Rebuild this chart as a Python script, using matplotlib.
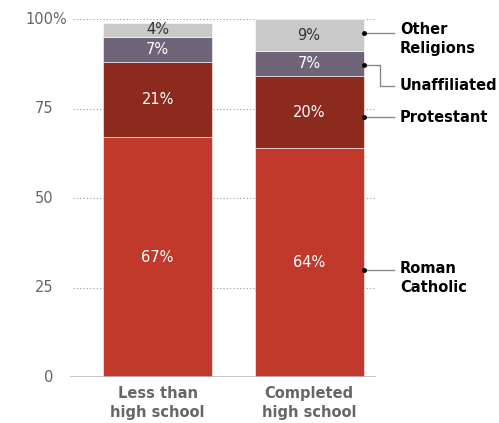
import matplotlib.pyplot as plt
import numpy as np

groups = ['Less than\nhigh school', 'Completed\nhigh school']
religions = ['Roman\nCatholic', 'Protestant', 'Unaffiliated', 'Other\nReligions']
catholic = [67, 64]
protestant = [21, 20]
unaffiliated = [7, 7]
other = [4, 9]
yticks = [0, 25, 50, 75, 100]

colors = ['#C0392B', '#8C2A1E', '#6F6478', '#C9C9CA']
text_colors = ['white', 'white', 'white', '#333333']

fig = plt.figure(figsize=(4.99, 4.23), dpi=100)
ax = fig.add_axes([0.1403, 0.1087, 0.6132, 0.8463])

x = np.arange(len(groups))
bottom = np.zeros(len(groups))
series = [catholic, protestant, unaffiliated, other]
for vals, c, tc in zip(series, colors, text_colors):
    vals = np.array(vals)
    ax.bar(x, vals, bottom=bottom, width=0.72, color=c, edgecolor='white', linewidth=0.4, zorder=2)
    for xi, b, v in zip(x, bottom, vals):
        ax.text(xi, b + v / 2, f'{v}%', ha='center', va='center', color=tc, fontsize=10.5, zorder=3)
    bottom = bottom + vals

ax.set_xlim(-0.578, 1.442)
ax.set_ylim(0, 100)

for s in ax.spines.values():
    s.set_visible(False)
ax.axhline(0, color='#BBBBBB', lw=1.2, zorder=3)
for t in yticks[1:]:
    ax.axhline(t, xmin=0.01, color='#999999', lw=0.8, ls=(0, (1, 2)), zorder=1)

ax.set_xticks([])
ax.set_yticks([])
for t in yticks:
    ax.text(-0.69, t, str(t), ha='right', va='center', color='#666666', fontsize=10.5, clip_on=False)
ax.text(-0.695, 100, '%', ha='left', va='center', color='#666666', fontsize=10.5, clip_on=False)

for xi, g in zip(x, groups):
    ax.text(xi, -2.5, g, ha='center', va='top', color='#666666', fontsize=10.5,
            fontweight='bold', linespacing=1.3, clip_on=False,
            family=['Liberation Sans Narrow', 'DejaVu Sans'])

# labels to the right of the second bar
edge = 1 + 0.36
lab_x = 1.6
dots = [30, 72.6, 87.2, 96.2]
lab_y = [27.6, 72.6, 81.3, 94.4]
for name, m, ly in zip(religions, dots, lab_y):
    ax.plot([edge], [m], 'o', color='black', ms=2.5, clip_on=False, zorder=4)
    if name == 'Unaffiliated':
        ax.plot([edge, 1.47, 1.47, 1.56], [m, m, ly, ly], color='#888888', lw=1, clip_on=False, zorder=3)
    else:
        ax.plot([edge, 1.56], [m, m], color='#888888', lw=1, clip_on=False, zorder=3)
    ax.text(lab_x, ly, name, ha='left', va='center', fontsize=10.5, fontweight='bold',
            color='black', linespacing=1.35, clip_on=False,
            family=['Liberation Sans Narrow', 'DejaVu Sans'])

fig.savefig('out.png', dpi=100)
